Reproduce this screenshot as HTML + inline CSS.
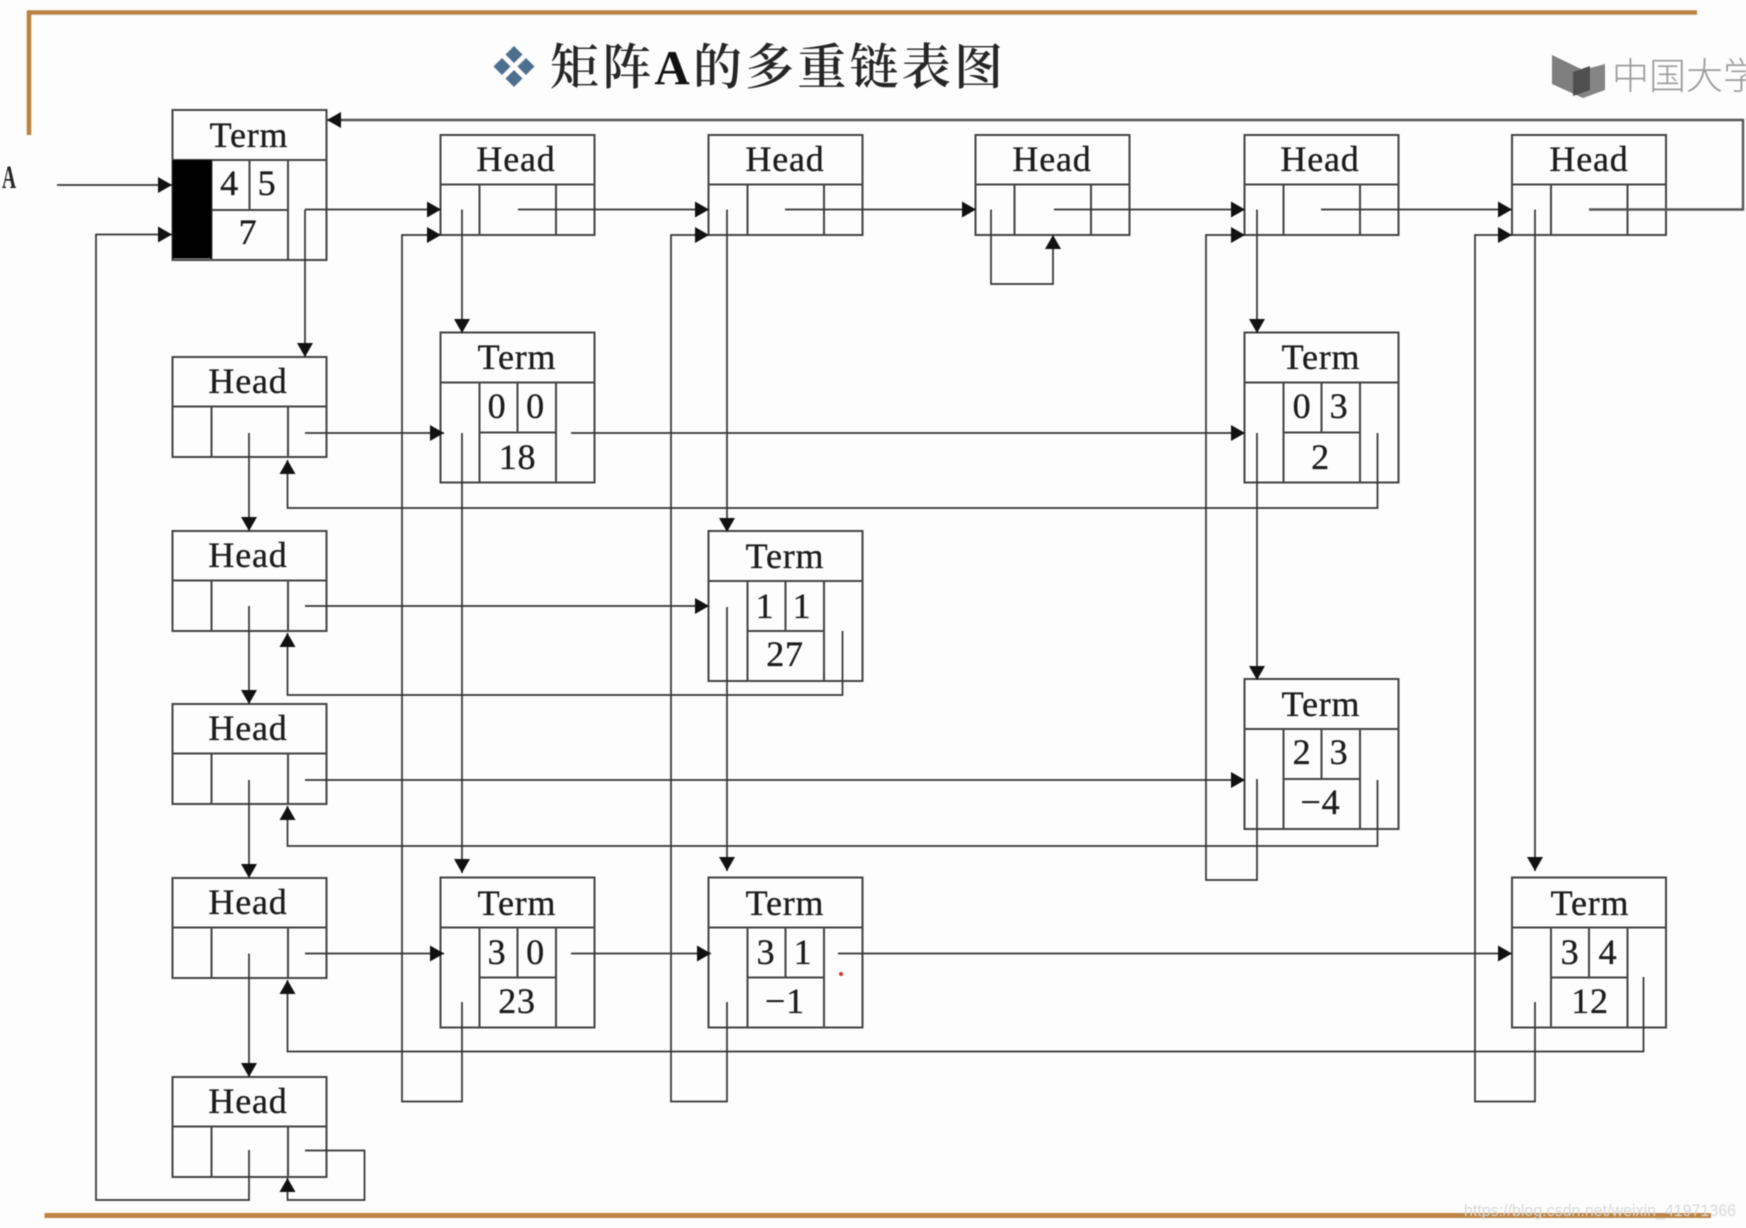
<!DOCTYPE html>
<html lang="zh">
<head>
<meta charset="utf-8">
<title>矩阵A的多重链表图</title>
<style>
html,body{margin:0;padding:0;background:#fdfdfd;width:1746px;height:1228px;overflow:hidden}
svg{display:block;position:absolute;left:0;top:0;filter:blur(.45px)}
.b{fill:none;stroke:#444;stroke-width:2}
.l{fill:none;stroke:#333;stroke-width:1.7}
.t{font-family:"Liberation Serif","Noto Serif CJK SC",serif;font-size:36px;letter-spacing:.8px;fill:#1c1c1c;stroke:#1c1c1c;stroke-width:.35;text-anchor:middle;font-weight:400}
</style>
</head>
<body>
<svg width="1746" height="1228" viewBox="0 0 1746 1228" xmlns="http://www.w3.org/2000/svg">
<defs>
<marker id="a" markerUnits="userSpaceOnUse" markerWidth="15" markerHeight="16" refX="14" refY="8" orient="auto"><path d="M0 0L14 8L0 16Z" fill="#111"/></marker>
<g id="H"><rect class="b" x="0" y="0" width="154" height="100"/><path class="b" d="M0 49.5H154M39 49.5V100M115.5 49.5V100"/></g>
<g id="T"><rect class="b" x="0" y="0" width="154" height="150"/><path class="b" d="M0 50H154M39 50V150M115.5 50V150M39 100H115.5M77 50V100"/></g>
</defs>

<!-- frame -->
<path d="M29 135V12.5H1697" fill="none" stroke="#b98243" stroke-width="4.5"/>
<path d="M44.5 1215.5H1711" fill="none" stroke="#bd8445" stroke-width="5"/>

<!-- title -->
<g fill="#4d6f8e">
<path d="M514 46l8.500 8.500-8.500 8.500-8.500-8.500zM514 70l8.500 8.500-8.500 8.500-8.500-8.500zM502 58l8.500 8.500-8.500 8.500-8.500-8.500zM526 58l8.500 8.500-8.500 8.500-8.500-8.500z"/>
</g>
<text x="550" y="84" font-family="'Noto Serif CJK SC','Liberation Serif',serif" font-size="49" font-weight="600" fill="#262626" textLength="453" lengthAdjust="spacing">矩阵<tspan font-family="'Liberation Serif',serif" font-weight="700" fill="#111">A</tspan>的多重链表图</text>

<!-- logo -->
<path d="M1552 55L1583 70V98L1552 84Z" fill="#7e7e7e"/>
<path d="M1583 70L1605 64V90L1583 98Z" fill="#858585"/>
<path d="M1573 72L1590 66V90L1573 96Z" fill="#505050"/>
<text x="1612" y="89" font-family="'Noto Sans CJK SC',sans-serif" font-size="37" font-weight="300" fill="#9c9c9c">中国大学</text>

<!-- nodes -->
<use href="#T" x="172.5" y="110"/>
<rect x="172.5" y="160" width="39" height="98.5" fill="#000"/>
<use href="#H" x="440.5" y="135"/>
<use href="#H" x="708.5" y="135"/>
<use href="#H" x="975.5" y="135"/>
<use href="#H" x="1244.5" y="135"/>
<use href="#H" x="1512" y="135"/>
<use href="#H" x="172.5" y="357"/>
<use href="#H" x="172.5" y="531"/>
<use href="#H" x="172.5" y="704"/>
<use href="#H" x="172.5" y="878"/>
<use href="#H" x="172.5" y="1077"/>
<use href="#T" x="440.5" y="332.5"/>
<use href="#T" x="1244.5" y="332.5"/>
<use href="#T" x="708.5" y="531"/>
<use href="#T" x="1244.5" y="679"/>
<use href="#T" x="440.5" y="877.5"/>
<use href="#T" x="708.5" y="877.5"/>
<use href="#T" x="1512" y="877.5"/>

<!-- connectors -->
<path class="l" d="M57 185H172" marker-end="url(#a)"/>
<path class="l" d="M249 1150V1200H96V234.5H172" marker-end="url(#a)"/>
<path class="l" style="stroke-width:2.4;stroke:#555" d="M1589 209.5H1743V120H327" marker-end="url(#a)"/>
<path class="l" d="M305 209.5H441" marker-end="url(#a)"/>
<path class="l" d="M305 209.5V357" marker-end="url(#a)"/>
<path class="l" d="M518 209.5H709" marker-end="url(#a)"/>
<path class="l" d="M785 209.5H976" marker-end="url(#a)"/>
<path class="l" d="M1054 209.5H1245" marker-end="url(#a)"/>
<path class="l" d="M1321 209.5H1512" marker-end="url(#a)"/>
<path class="l" d="M991 209.5V284H1053V235" marker-end="url(#a)"/>
<path class="l" d="M462 209.5V333" marker-end="url(#a)"/>
<path class="l" d="M462 433V873" marker-end="url(#a)"/>
<path class="l" d="M462 1002V1101.5H402V235H441" marker-end="url(#a)"/>
<path class="l" d="M727 209.5V532" marker-end="url(#a)"/>
<path class="l" d="M727 607V871" marker-end="url(#a)"/>
<path class="l" d="M727 1002V1101.5H671V235H709" marker-end="url(#a)"/>
<path class="l" d="M1257 209.5V333" marker-end="url(#a)"/>
<path class="l" d="M1257 433V680" marker-end="url(#a)"/>
<path class="l" d="M1257 779V880H1206V235H1245" marker-end="url(#a)"/>
<path class="l" d="M1535 209.5V871" marker-end="url(#a)"/>
<path class="l" d="M1535 1002V1101.5H1475V235H1512" marker-end="url(#a)"/>

<path class="l" d="M305 433H444" marker-end="url(#a)"/>
<path class="l" d="M249 433V531" marker-end="url(#a)"/>
<path class="l" d="M571 433H1245" marker-end="url(#a)"/>
<path class="l" d="M1377.5 433V508H287.5V460" marker-end="url(#a)"/>

<path class="l" d="M305 606H709" marker-end="url(#a)"/>
<path class="l" d="M249 606V704" marker-end="url(#a)"/>
<path class="l" d="M842.5 631V695H287.5V633" marker-end="url(#a)"/>

<path class="l" d="M305 780H1245" marker-end="url(#a)"/>
<path class="l" d="M249 780V878" marker-end="url(#a)"/>
<path class="l" d="M1377.5 780V846H287.5V806" marker-end="url(#a)"/>

<path class="l" d="M305 953.5H444" marker-end="url(#a)"/>
<path class="l" d="M571 953.5H711" marker-end="url(#a)"/>
<path class="l" d="M838 953.5H1512" marker-end="url(#a)"/>
<path class="l" d="M249 953.5V1077" marker-end="url(#a)"/>
<path class="l" d="M1643.5 977V1051.5H287.5V980" marker-end="url(#a)"/>

<path class="l" d="M305 1150.5H364.5V1200H287.5V1178" marker-end="url(#a)"/>

<circle cx="841" cy="974" r="2" fill="#d8322f"/>

<!-- labels -->
<text transform="translate(9 188) scale(.72 1.2)" font-family="'Liberation Serif',serif" font-weight="700" font-size="27" fill="#222" text-anchor="middle">A</text>

<g class="labels" transform="translate(0 1)">
<text class="t" x="249" y="146">Term</text>
<text class="t" x="229.5" y="194">4</text><text class="t" x="267" y="194">5</text>
<text class="t" x="248" y="243">7</text>

<text class="t" x="516" y="170">Head</text>
<text class="t" x="785" y="170">Head</text>
<text class="t" x="1052" y="170">Head</text>
<text class="t" x="1320" y="170">Head</text>
<text class="t" x="1589" y="170">Head</text>

<text class="t" x="248" y="392">Head</text>
<text class="t" x="248" y="566">Head</text>
<text class="t" x="248" y="739">Head</text>
<text class="t" x="248" y="913">Head</text>
<text class="t" x="248" y="1112">Head</text>

<text class="t" x="517" y="368">Term</text>
<text class="t" x="497" y="417">0</text><text class="t" x="535.5" y="417">0</text>
<text class="t" x="517.5" y="468">18</text>

<text class="t" x="1321" y="368">Term</text>
<text class="t" x="1302" y="417">0</text><text class="t" x="1339" y="417">3</text>
<text class="t" x="1320.5" y="468">2</text>

<text class="t" x="785" y="567">Term</text>
<text class="t" x="765" y="617">1</text><text class="t" x="802" y="617">1</text>
<text class="t" x="785" y="665">27</text>

<text class="t" x="1321" y="715">Term</text>
<text class="t" x="1302" y="763">2</text><text class="t" x="1339" y="763">3</text>
<text class="t" x="1320.5" y="813">−4</text>

<text class="t" x="517" y="914">Term</text>
<text class="t" x="497" y="963">3</text><text class="t" x="535.5" y="963">0</text>
<text class="t" x="517" y="1012">23</text>

<text class="t" x="785" y="914">Term</text>
<text class="t" x="766" y="963">3</text><text class="t" x="803" y="963">1</text>
<text class="t" x="785" y="1012">−1</text>

<text class="t" x="1590" y="914">Term</text>
<text class="t" x="1570" y="963">3</text><text class="t" x="1608" y="963">4</text>
<text class="t" x="1590" y="1012">12</text>
</g>

<!-- url watermark -->
<text x="1464" y="1216" font-family="'Liberation Sans',sans-serif" font-size="17" fill="#d8d8d8" textLength="272" lengthAdjust="spacingAndGlyphs">https://blog.csdn.net/weixin_41971366</text>
</svg>
</body>
</html>
